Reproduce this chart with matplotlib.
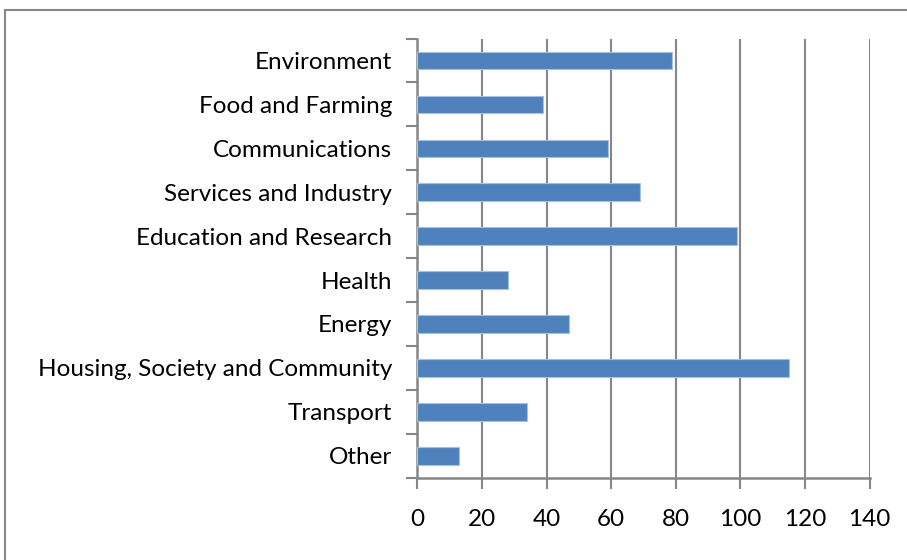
import numpy as np
import matplotlib.pyplot as plt
from matplotlib.lines import Line2D

categories = ['Other', 'Transport', 'Housing, Society and Community', 'Energy', 'Health',
              'Education and Research', 'Services and Industry', 'Communications',
              'Food and Farming', 'Environment']
counts = [13, 34, 115, 47, 28, 99, 69, 59, 39, 79]
xticks = [0, 20, 40, 60, 80, 100, 120, 140]

plt.rcParams['font.family'] = ['Lato', 'DejaVu Sans']
grey = '#868686'

fig = plt.figure(figsize=(9.07, 5.60), dpi=100)
ax = fig.add_axes([417.3 / 907, 1 - 477.7 / 560, 452.2 / 907, 439.2 / 560])

y = np.arange(len(categories))
ax.barh(y, counts, height=0.4, color='#4F81BD', edgecolor='#A7C0DE', linewidth=0.8, zorder=3)

ax.set_xlim(0, 140)
ax.set_ylim(-0.5, len(categories) - 0.5)
ax.set_xticks(xticks)
ax.set_yticks(y)
ax.set_yticklabels(categories)
ax.set_yticks(np.arange(len(categories) + 1) - 0.5, minor=True)

ax.grid(axis='x', color=grey, linewidth=1.5, zorder=1)
ax.tick_params(axis='x', direction='out', length=8, width=1.5, color=grey,
               labelsize=17.5, pad=14.5)
ax.tick_params(axis='y', which='major', length=0, labelsize=17.5, pad=18)
ax.tick_params(axis='y', which='minor', direction='out', length=8, width=1.5, color=grey)

for side in ['top', 'right']:
    ax.spines[side].set_visible(False)
for side in ['left', 'bottom']:
    ax.spines[side].set_color(grey)
    ax.spines[side].set_linewidth(1.8)

# chart frame, running off the right and bottom edges
fig.add_artist(Line2D([5 / 907, 5 / 907], [0, 1 - 10 / 560], color=grey, linewidth=1.5))
fig.add_artist(Line2D([5 / 907, 1], [1 - 10 / 560, 1 - 10 / 560], color=grey, linewidth=1.5))

fig.savefig('out.png', dpi=100)
